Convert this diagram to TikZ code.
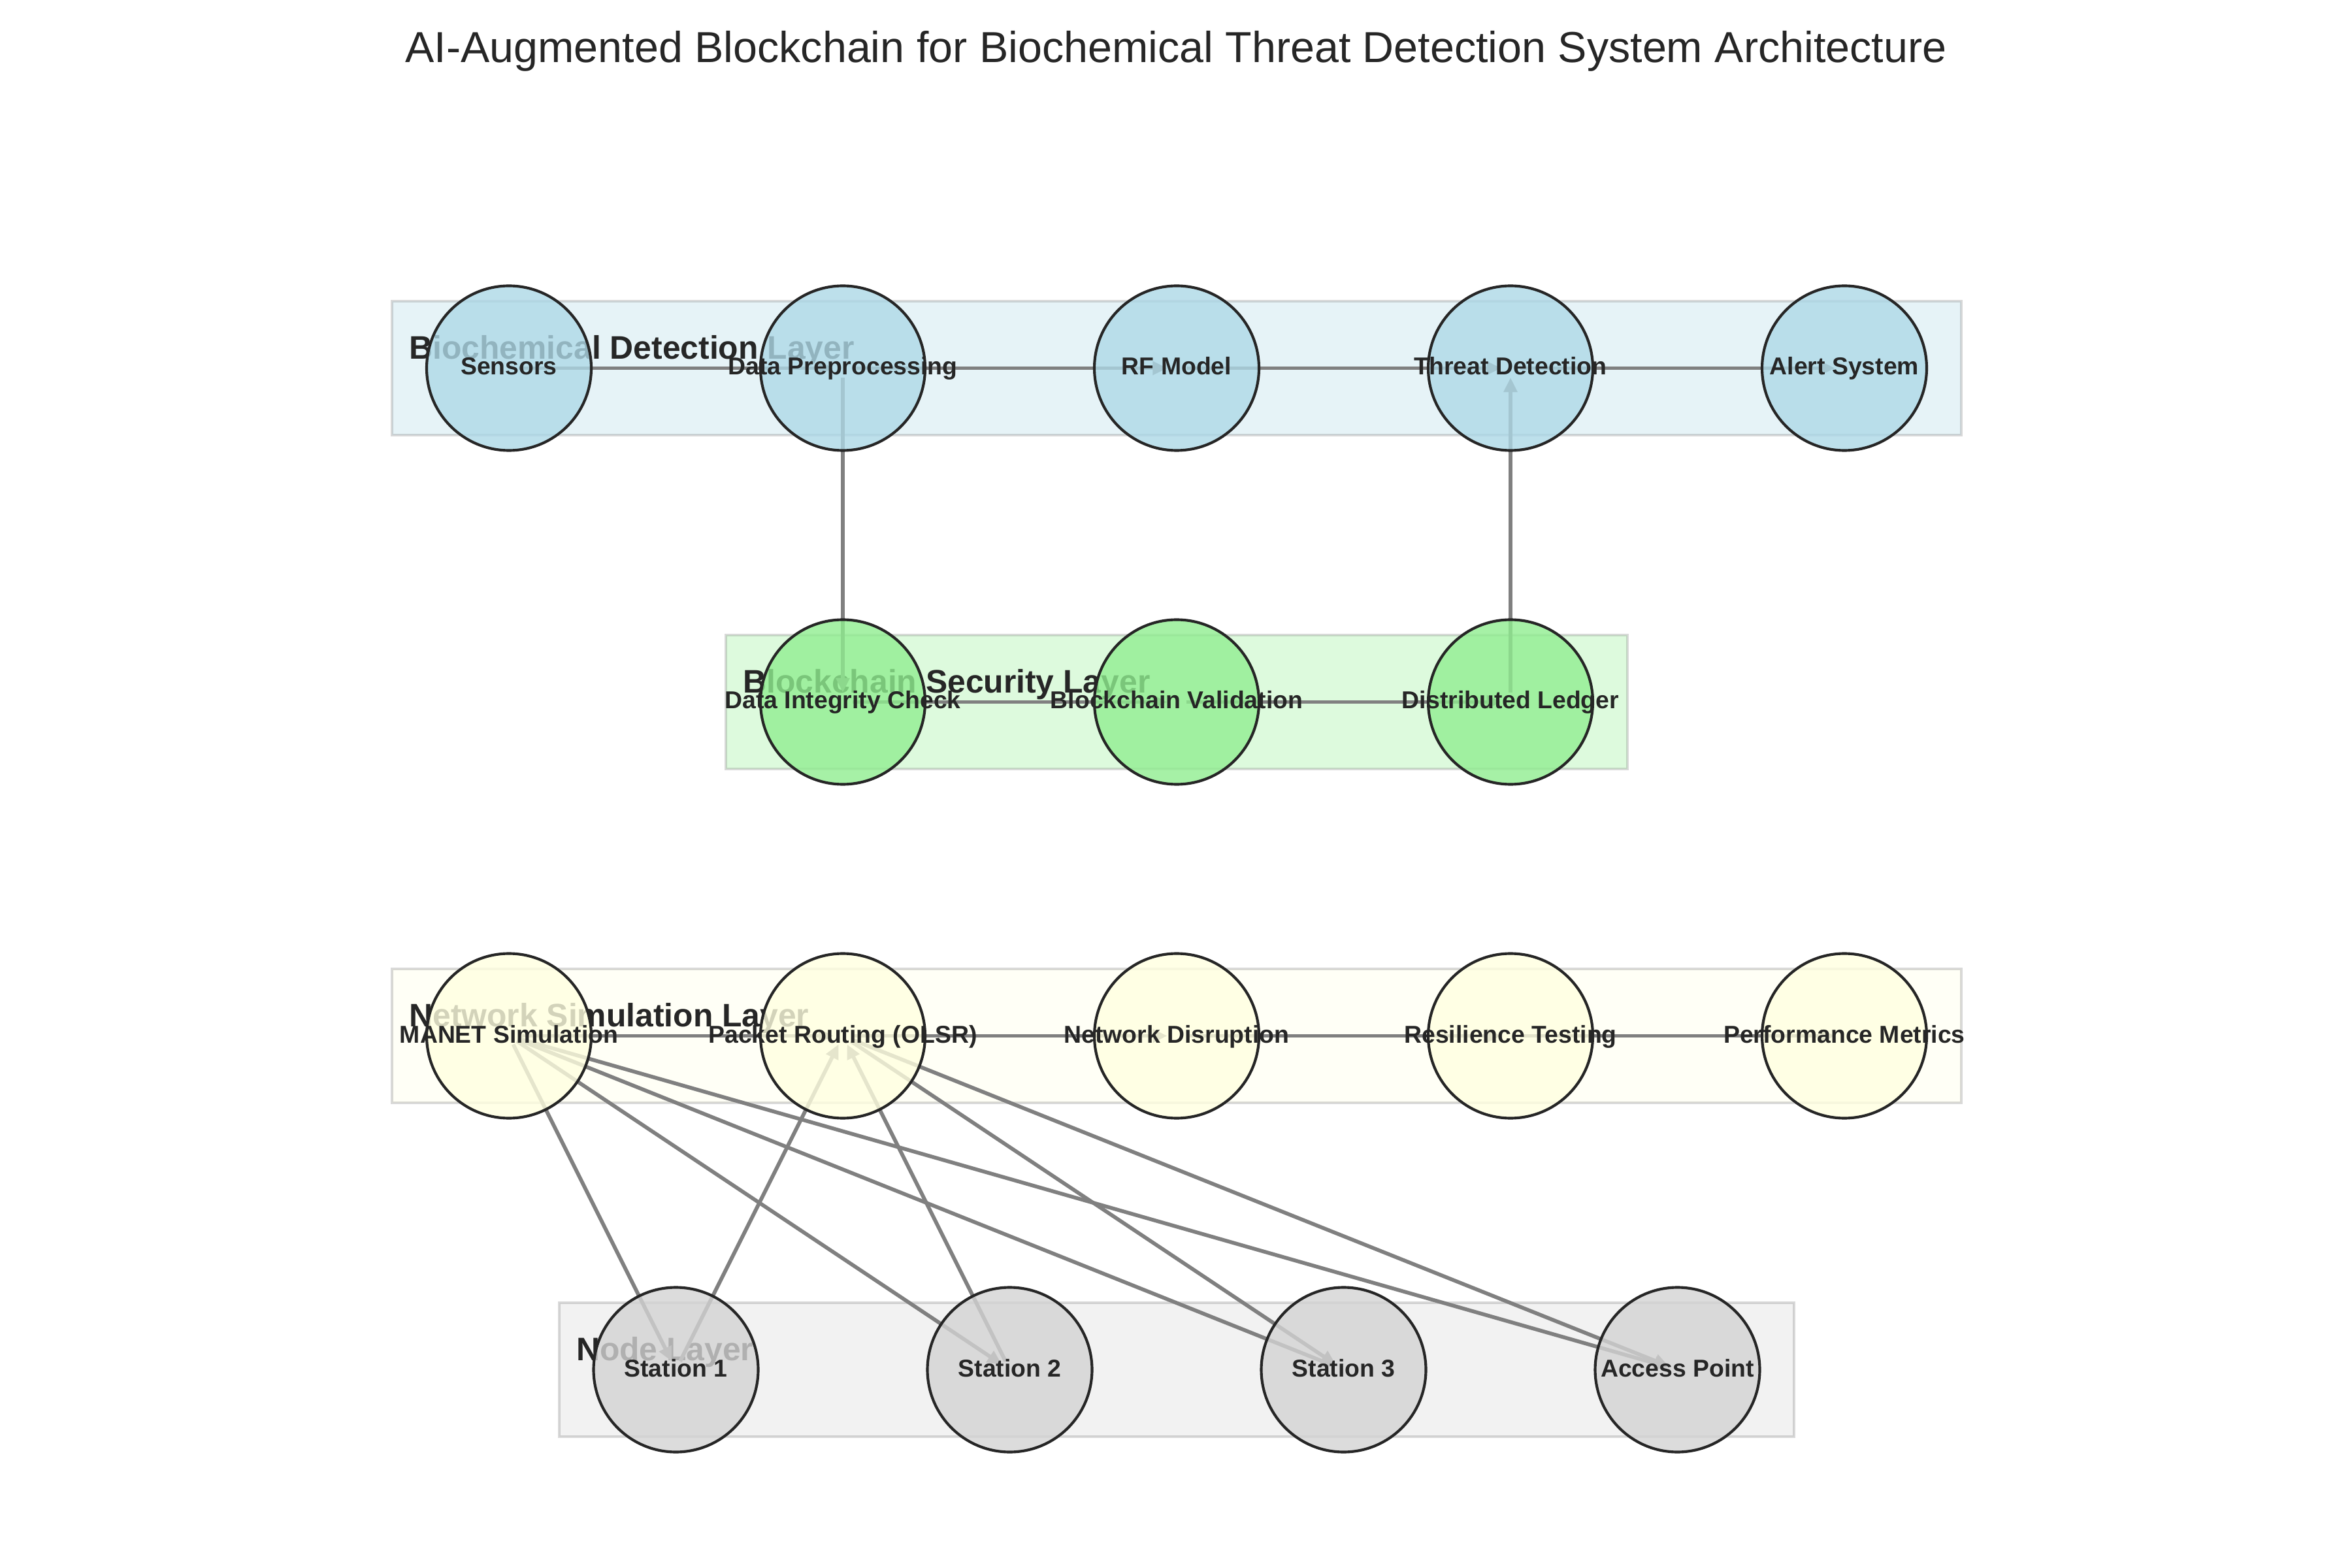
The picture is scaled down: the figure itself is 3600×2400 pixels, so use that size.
\documentclass[tikz,border=0pt]{standalone}
\usepackage{fontspec}
\setmainfont{Liberation Sans}
\usetikzlibrary{arrows.meta}
\definecolor{lb}{HTML}{ADD8E6}
\definecolor{lg}{HTML}{90EE90}
\definecolor{ly}{HTML}{FFFFE0}
\definecolor{lgr}{HTML}{D3D3D3}
\definecolor{txt}{HTML}{262626}
\definecolor{edgec}{HTML}{808080}
\begin{document}
\begin{tikzpicture}[x=0.2409pt,y=-0.2409pt,
  layerbox/.style={draw=edgec,draw opacity=0.3,fill opacity=0.3,line width=1pt},
  layertext/.style={anchor=base west,inner sep=0pt,text=txt,font=\fontsize{12}{14}\selectfont\bfseries},
  circ/.style={circle,draw=txt,line width=1pt,fill opacity=0.8,minimum size=60.7pt,inner sep=0pt},
  ntext/.style={anchor=base,inner sep=0pt,text=txt,font=\fontsize{9}{11}\selectfont\bfseries},
  link/.style={draw=edgec,line width=1.4pt,-{Triangle[length=5.3pt,width=4.8pt]},shorten >=3.5pt,shorten <=3.5pt},
  titletext/.style={anchor=base,inner sep=0pt,text=txt,font=\fontsize{16}{19}\selectfont}]
\useasboundingbox (0,0) rectangle (3600,2400);

% title
\node[titletext] (title) at (1800,95.7) {AI-Augmented Blockchain for Biochemical Threat Detection System Architecture};

% layer boxes
\path[layerbox,fill=lb] (600.2,461.3) rectangle (3001.8,665.7);
\path[layerbox,fill=lg] (1111.2,972.3) rectangle (2490.8,1176.7);
\path[layerbox,fill=ly] (600.2,1483.3) rectangle (3001.8,1687.7);
\path[layerbox,fill=lgr] (855.7,1994.3) rectangle (2746.3,2198.7);

% layer labels
\node[layertext] (l1) at (625.7,549.5) {Biochemical Detection Layer};
\node[layertext] (l2) at (1136.7,1060.5) {Blockchain Security Layer};
\node[layertext] (l3) at (625.7,1571.5) {Network Simulation Layer};
\node[layertext] (l4) at (881.2,2082.5) {Node Layer};

% positions
\coordinate (sen) at (779,563.5);
\coordinate (dp) at (1290,563.5);
\coordinate (rf) at (1801,563.5);
\coordinate (td) at (2312,563.5);
\coordinate (as) at (2823,563.5);
\coordinate (dic) at (1290,1074.5);
\coordinate (bv) at (1801,1074.5);
\coordinate (dl) at (2312,1074.5);
\coordinate (man) at (779,1585.5);
\coordinate (pr) at (1290,1585.5);
\coordinate (nd) at (1801,1585.5);
\coordinate (rt) at (2312,1585.5);
\coordinate (pm) at (2823,1585.5);
\coordinate (s1) at (1034.5,2096.5);
\coordinate (s2) at (1545.5,2096.5);
\coordinate (s3) at (2056.5,2096.5);
\coordinate (ap) at (2567.5,2096.5);

% connectors
\draw[link] (sen) -- (dp);
\draw[link] (dp) -- (rf);
\draw[link] (rf) -- (td);
\draw[link] (td) -- (as);
\draw[link] (dp) -- (dic);
\draw[link] (dl) -- (td);
\draw[link] (dic) -- (bv);
\draw[link] (bv) -- (dl);
\draw[link] (man) -- (pr);
\draw[link] (pr) -- (nd);
\draw[link] (nd) -- (rt);
\draw[link] (rt) -- (pm);
\draw[link] (man) -- (s1);
\draw[link] (man) -- (s2);
\draw[link] (man) -- (s3);
\draw[link] (man) -- (ap);
\draw[link] (s1) -- (pr);
\draw[link] (s2) -- (pr);
\draw[link] (pr) -- (s3);
\draw[link] (pr) -- (ap);

% circles
\node[circ,fill=lb] (sen-c) at (sen) {};
\node[circ,fill=lb] (dp-c) at (dp) {};
\node[circ,fill=lb] (rf-c) at (rf) {};
\node[circ,fill=lb] (td-c) at (td) {};
\node[circ,fill=lb] (as-c) at (as) {};
\node[circ,fill=lg] (dic-c) at (dic) {};
\node[circ,fill=lg] (bv-c) at (bv) {};
\node[circ,fill=lg] (dl-c) at (dl) {};
\node[circ,fill=ly] (man-c) at (man) {};
\node[circ,fill=ly] (pr-c) at (pr) {};
\node[circ,fill=ly] (nd-c) at (nd) {};
\node[circ,fill=ly] (rt-c) at (rt) {};
\node[circ,fill=ly] (pm-c) at (pm) {};
\node[circ,fill=lgr] (s1-c) at (s1) {};
\node[circ,fill=lgr] (s2-c) at (s2) {};
\node[circ,fill=lgr] (s3-c) at (s3) {};
\node[circ,fill=lgr] (ap-c) at (ap) {};

% node texts
\node[ntext] (sen-t) at ([yshift=-2.53pt]sen) {Sensors};
\node[ntext] (dp-t) at ([yshift=-2.53pt]dp) {Data Preprocessing};
\node[ntext] (rf-t) at ([yshift=-2.53pt]rf) {RF Model};
\node[ntext] (td-t) at ([yshift=-2.53pt]td) {Threat Detection};
\node[ntext] (as-t) at ([yshift=-2.53pt]as) {Alert System};
\node[ntext] (dic-t) at ([yshift=-2.53pt]dic) {Data Integrity Check};
\node[ntext] (bv-t) at ([yshift=-2.53pt]bv) {Blockchain Validation};
\node[ntext] (dl-t) at ([yshift=-2.53pt]dl) {Distributed Ledger};
\node[ntext] (man-t) at ([yshift=-2.53pt]man) {MANET Simulation};
\node[ntext] (pr-t) at ([yshift=-2.53pt]pr) {Packet Routing (OLSR)};
\node[ntext] (nd-t) at ([yshift=-2.53pt]nd) {Network Disruption};
\node[ntext] (rt-t) at ([yshift=-2.53pt]rt) {Resilience Testing};
\node[ntext] (pm-t) at ([yshift=-2.53pt]pm) {Performance Metrics};
\node[ntext] (s1-t) at ([yshift=-2.53pt]s1) {Station 1};
\node[ntext] (s2-t) at ([yshift=-2.53pt]s2) {Station 2};
\node[ntext] (s3-t) at ([yshift=-2.53pt]s3) {Station 3};
\node[ntext] (ap-t) at ([yshift=-2.53pt]ap) {Access Point};
\end{tikzpicture}
\end{document}
